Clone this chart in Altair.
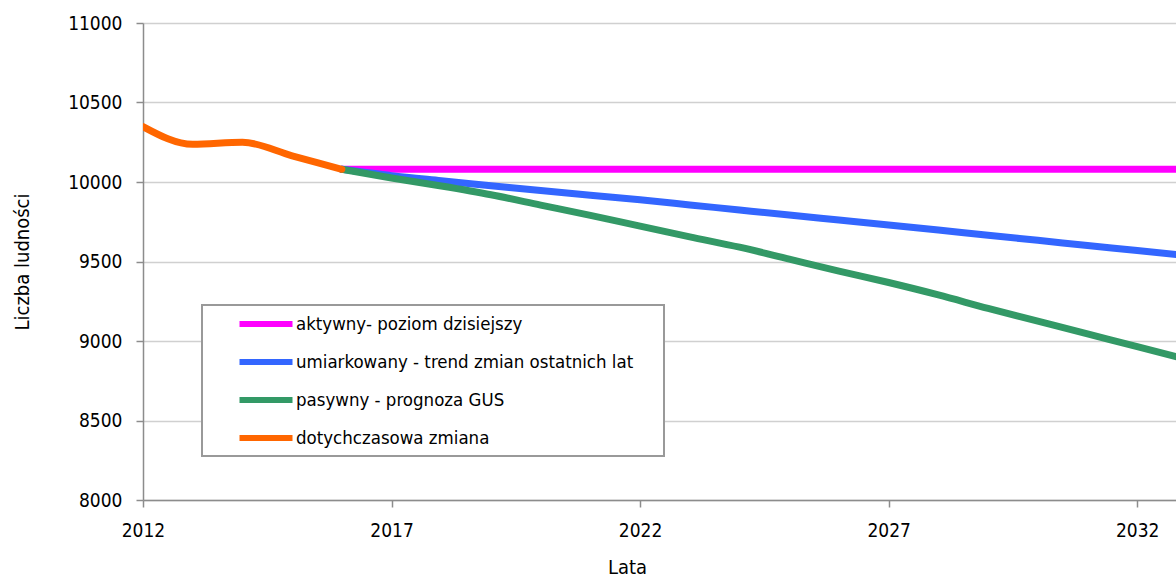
import altair as alt
import pandas as pd

# ---- data ----
hist_years = [2012, 2013, 2014, 2015, 2016]
hist_values = [10348, 10237, 10250, 10165, 10080]

proj_years = list(range(2016, 2034))
active_values = [10080] * len(proj_years)
moderate_values = [10080, 10040, 10008, 9977, 9946, 9916, 9888, 9856, 9824,
                   9792, 9761, 9730, 9698, 9665, 9633, 9601, 9569, 9537]
passive_values = [10080, 10025, 9975, 9920, 9855, 9790, 9722, 9655, 9590,
                  9515, 9440, 9368, 9290, 9205, 9125, 9045, 8964, 8885]

series_names = [
    "aktywny- poziom dzisiejszy",
    "umiarkowany - trend zmian ostatnich lat",
    "pasywny - prognoza GUS",
    "dotychczasowa zmiana",
]
series_colors = ["#FF00FF", "#3366FF", "#339966", "#FF6600"]

y_ticks = [8000, 8500, 9000, 9500, 10000, 10500, 11000]
x_ticks = [2012, 2017, 2022, 2027, 2032]

rows = []
for yr, v in zip(proj_years, active_values):
    rows.append({"rok": yr, "ludnosc": v, "seria": series_names[0]})
for yr, v in zip(proj_years, moderate_values):
    rows.append({"rok": yr, "ludnosc": v, "seria": series_names[1]})
for yr, v in zip(proj_years, passive_values):
    rows.append({"rok": yr, "ludnosc": v, "seria": series_names[2]})
for yr, v in zip(hist_years, hist_values):
    rows.append({"rok": yr, "ludnosc": v, "seria": series_names[3]})
df = pd.DataFrame(rows)

FONT = "DejaVu Sans Condensed"

x_enc = alt.X(
    "rok:Q",
    scale=alt.Scale(domain=[2012, 2032.78], nice=False, zero=False),
    axis=alt.Axis(
        values=x_ticks, format="d", title="Lata", grid=False,
        domainColor="#8c8c8c", domainWidth=1.5, tickColor="#8c8c8c",
        tickWidth=1.5, tickSize=7, labelPadding=14, labelFontSize=19,
        labelFont=FONT, labelColor="#000000", titleFont=FONT,
        titleFontSize=20, titleFontWeight="normal", titleColor="#000000",
        titleX=484, titleY=67, titleBaseline="middle", titleAlign="center",
        labelFlush=False,
    ),
)
y_enc = alt.Y(
    "ludnosc:Q",
    scale=alt.Scale(domain=[8000, 11000], nice=False, zero=False),
    axis=alt.Axis(
        values=y_ticks, format="d", title="Liczba ludności", grid=True,
        gridColor="#d0d0d0", gridWidth=1.5,
        domainColor="#8c8c8c", domainWidth=1.5, tickColor="#8c8c8c",
        tickWidth=1.5, tickSize=7, labelPadding=14, labelFontSize=19,
        labelFont=FONT, labelColor="#000000", titleFont=FONT,
        titleFontSize=20, titleFontWeight="normal", titleColor="#000000",
        titleX=-121, titleBaseline="middle", titleAlign="center",
    ),
)
color_enc = alt.Color(
    "seria:N",
    scale=alt.Scale(domain=series_names, range=series_colors),
    legend=alt.Legend(
        title=None, orient="none", legendX=59, legendY=282,
        symbolType="M-2.65,0H2.65", symbolSize=400, symbolStrokeWidth=6,
        labelFontSize=18.5, labelFont=FONT, labelColor="#000000",
        labelLimit=1000,
        strokeColor="#999999", padding=6, rowPadding=13, labelOffset=17,
        symbolOffset=45, fillColor="#ffffff",
        labelExpr="datum.label + '\u2800\u2800'",
    ),
)

layers = []
for name in series_names:
    layers.append(
        alt.Chart(df)
        .transform_filter(alt.datum.seria == name)
        .mark_line(strokeWidth=7, interpolate="monotone", clip=True,
                   strokeCap="round", strokeJoin="round")
        .encode(x=x_enc, y=y_enc, color=color_enc)
    )

chart = (
    alt.layer(*layers)
    .properties(
        width=1033, height=477,
        autosize=alt.AutoSizeParams(type="none"),
        padding={"left": 143, "top": 23, "right": 0, "bottom": 81},
        background="#ffffff",
    )
    .configure_view(stroke=None)
    .configure_legend(strokeWidth=2)
)

chart.save("out.html", embed_options={"renderer": "svg", "actions": False})
